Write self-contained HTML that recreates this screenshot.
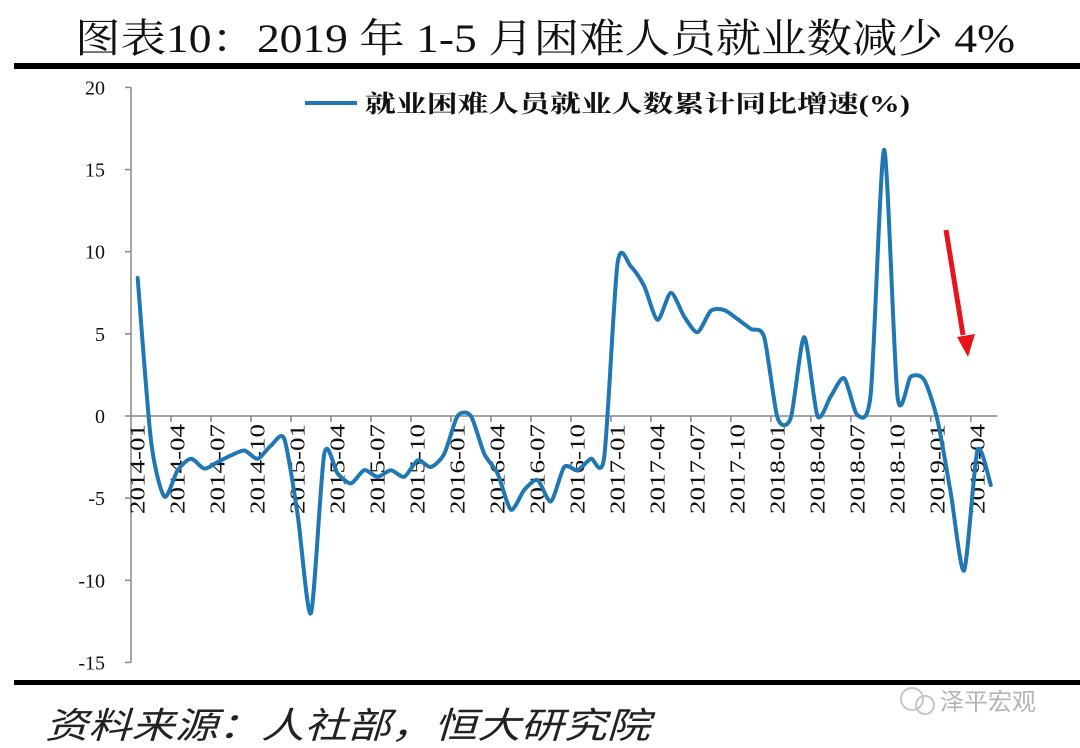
<!DOCTYPE html>
<html><head><meta charset="utf-8"><style>
html,body{margin:0;padding:0;background:#fff;}
svg{display:block;}
</style></head><body>
<svg id="chart" width="1080" height="748" xmlns="http://www.w3.org/2000/svg">
<text x="75" y="52" font-family="'Liberation Serif','Noto Serif CJK SC',serif" font-size="40" textLength="940" lengthAdjust="spacingAndGlyphs" fill="#111">图表10：2019 年 1-5 月困难人员就业数减少 4%</text>
<rect x="14" y="63" width="1066" height="6" fill="#000"/>
<rect x="14" y="680" width="1066" height="5" fill="#000"/>
<text x="45" y="738" font-family="'Liberation Sans','Noto Sans CJK SC',sans-serif" font-style="italic" font-size="36" textLength="605" lengthAdjust="spacingAndGlyphs" fill="#222">资料来源：人社部，恒大研究院</text>
<g opacity="0.55">
<circle cx="912" cy="699" r="11" fill="none" stroke="#999" stroke-width="2"/>
<circle cx="925" cy="705" r="9" fill="none" stroke="#999" stroke-width="2"/>
<text x="940" y="710" font-family="'Liberation Sans','Noto Sans CJK SC',sans-serif" font-size="24" fill="#777">泽平宏观</text>
</g>
<g>
<line x1="305" y1="103" x2="357" y2="103" stroke="#1f77b4" stroke-width="4"/>
<text x="365" y="112" font-family="'Liberation Serif','Noto Serif CJK SC',serif" font-weight="bold" font-size="24" textLength="545" lengthAdjust="spacingAndGlyphs" fill="#111">就业困难人员就业人数累计同比增速(%)</text>
</g>
<g id="axes"></g>
<path id="series" fill="none" stroke="#1f77b4" stroke-width="4" stroke-linejoin="round" stroke-linecap="round"/>
<g>
<line x1="946" y1="230" x2="963" y2="335" stroke="#e8141c" stroke-width="5"/>
<polygon points="957,337 975,334 968,357" fill="#e8141c"/>
</g>
</svg>
<script>
const categories = [];
for (let y = 2014; y <= 2019; y++) for (let m = 1; m <= 12; m++) { if (y === 2019 && m > 5) break; categories.push(y + '-' + String(m).padStart(2, '0')); }
const values = [8.4,-1.5,-4.9,-3.3,-2.6,-3.2,-2.8,-2.4,-2.1,-2.6,-1.8,-1.4,-6.0,-12.0,-2.3,-3.5,-4.1,-3.3,-3.7,-3.3,-3.7,-2.7,-3.1,-2.3,0.0,0.0,-2.3,-3.5,-5.7,-4.5,-3.9,-5.2,-3.1,-3.3,-2.6,-2.5,9.3,9.1,7.9,5.85,7.5,6.05,5.1,6.4,6.45,5.9,5.3,4.8,-0.1,-0.1,4.8,0.0,1.2,2.3,0.05,1.4,16.2,1.2,2.4,2.2,-0.25,-4.7,-9.4,-2.1,-4.2];
const yTicks = [20,15,10,5,0,-5,-10,-15];
const x0 = 131, step = 13.33, yZero = 416, pxPerUnit = 16.43;
const xPos = i => x0 + step/2 + step*i;
const yPos = v => yZero - v*pxPerUnit;
const NS = 'http://www.w3.org/2000/svg';
const axes = document.getElementById('axes');
function mk(tag, attrs, parent) { const e = document.createElementNS(NS, tag); for (const k in attrs) e.setAttribute(k, attrs[k]); (parent||axes).appendChild(e); return e; }
const yAxis = mk('line', {x1:x0, y1:yPos(20), x2:x0, y2:yPos(-15), stroke:'#888', 'stroke-width':1.5});


yTicks.forEach(t => {
  const tk = mk('line', {x1:x0-6, y1:yPos(t), x2:x0, y2:yPos(t), stroke:'#888', 'stroke-width':1.5});
  
  
  const lb = mk('text', {x:105, y:yPos(t)+7, 'text-anchor':'end', 'font-family':"'Liberation Serif',serif", 'font-size':20, fill:'#111'});
  lb.textContent = t;
  
  
});
const xEnd = x0 + step*categories.length;
const xAxis = mk('line', {x1:x0, y1:yZero, x2:xEnd, y2:yZero, stroke:'#888', 'stroke-width':1.5});


for (let i = 0; i < categories.length; i += 3) {
  if (i > 0) {
    const tk = mk('line', {x1:x0+step*i, y1:yZero, x2:x0+step*i, y2:yZero+6, stroke:'#888', 'stroke-width':1.5});
    
    
  }
  const x = xPos(i) + 7, y = yZero + 8;
  const lb = mk('text', {x:x, y:y, 'text-anchor':'end', transform:`rotate(-90 ${x} ${y})`, 'font-family':"'Liberation Serif',serif", 'font-size':21, textLength:90, lengthAdjust:'spacingAndGlyphs', fill:'#111'});
  lb.textContent = categories[i];
  
  
}
const pts = values.map((v,i) => [xPos(i), yPos(v)]);
let d = `M${pts[0][0]},${pts[0][1]}`;
for (let i = 0; i < pts.length-1; i++) {
  const p0 = pts[Math.max(0,i-1)], p1 = pts[i], p2 = pts[i+1], p3 = pts[Math.min(pts.length-1,i+2)];
  const k = 1/8;
  const c1 = [p1[0]+(p2[0]-p0[0])*k, p1[1]+(p2[1]-p0[1])*k];
  const c2 = [p2[0]-(p3[0]-p1[0])*k, p2[1]-(p3[1]-p1[1])*k];
  d += ` C${c1[0]},${c1[1]} ${c2[0]},${c2[1]} ${p2[0]},${p2[1]}`;
}
document.getElementById('series').setAttribute('d', d);
</script>
</body></html>
